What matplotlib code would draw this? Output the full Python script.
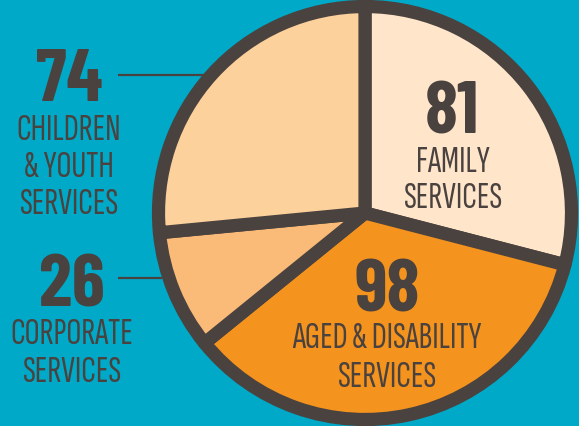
import matplotlib
matplotlib.use("Agg")
import matplotlib.pyplot as plt
from matplotlib import font_manager as fm
from matplotlib.textpath import TextPath

# Data
categories = [["FAMILY", "SERVICES"],
              ["AGED & DISABILITY", "SERVICES"],
              ["CORPORATE", "SERVICES"],
              ["CHILDREN", "& YOUTH", "SERVICES"]]
values = [81, 98, 26, 74]
colors = ["#FFE6CB", "#F4931E", "#FBBB78", "#FDD19C"]

BG = "#00A9C7"
DARK = "#4A423F"
LAB_FONT = ["Sofia Sans Extra Condensed", "Barlow Condensed", "DejaVu Sans"]
NUM_FONT = ["Barlow Condensed", "DejaVu Sans"]

W, H = 579, 426
fig = plt.figure(figsize=(W / 100, H / 100), dpi=100, facecolor=BG)
ax = fig.add_axes([0, 0, 1, 1])

cx, cy, r = 365, 213, 206.5
ax.pie(values, colors=colors, startangle=90, counterclock=False,
       center=(cx, cy), radius=r, frame=True,
       wedgeprops=dict(edgecolor=DARK, linewidth=9.5, joinstyle="round"))
ax.set_xlim(0, W)
ax.set_ylim(0, H)
ax.set_aspect("equal")
ax.axis("off")


def size_for(family, weight, sample, target_px):
    fp = fm.FontProperties(family=family, weight=weight)
    bb = TextPath((0, 0), sample, size=100, prop=fp).get_extents()
    px = target_px * 100.0 / bb.height
    return px * 72.0 / 100.0, fp


def put(text, x, yc, family, weight, target_cap, sample):
    """Place text horizontally centred at x, glyphs vertically centred at yc (pixels from top)."""
    fs, fp = size_for(family, weight, sample, target_cap)
    fpx = fs * 100.0 / 72.0
    bb = TextPath((0, 0), text, size=fpx, prop=fp).get_extents()
    baseline = (H - yc) - (bb.y0 + bb.y1) / 2.0
    ax.text(x, baseline, text, fontsize=fs, fontweight=weight, family=family,
            color=DARK, ha="center", va="baseline")


def num(v, x, yc):
    put(str(v), x, yc, NUM_FONT, 700, 54, "8")


def lab(lines, x, ycs):
    for t, yc in zip(lines, ycs):
        put(t, x, yc, LAB_FONT, 300, 24.5, "H")


# Family
num(values[0], 452, 107)
lab(categories[0], 452.5, [159.5, 196])
# Aged & disability
num(values[1], 387.5, 285.5)
lab(categories[1], 386.5, [335.5, 375])
# Children & youth
num(values[3], 69, 75)
lab(categories[3], 68.5, [128, 165, 202])
ax.plot([118, 208], [H - 75, H - 75], color=DARK, lw=1.6, solid_capstyle="butt")
# Corporate
num(values[2], 71.5, 280)
lab(categories[2], 72, [331.5, 369.5])
ax.plot([118, 162], [H - 278, H - 278], color=DARK, lw=1.6, solid_capstyle="butt")

fig.savefig("out.png", dpi=100, facecolor=BG)
